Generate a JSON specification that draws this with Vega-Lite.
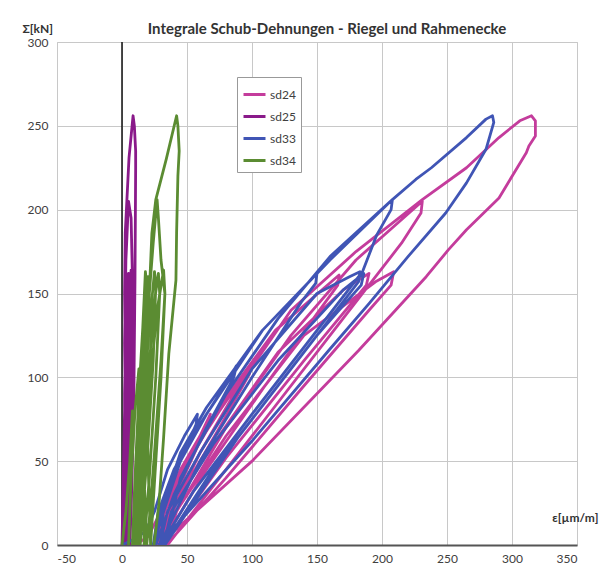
{
  "$schema": "https://vega.github.io/schema/vega-lite/v6.json",
  "width": 520,
  "height": 503,
  "autosize": "none",
  "padding": {"left": 57, "top": 42, "right": 25, "bottom": 30},
  "background": "white",
  "title": {"text": "Integrale Schub-Dehnungen - Riegel und Rahmenecke", "font": "Lato", "fontSize": 15, "fontWeight": "bold", "color": "#333333", "offset": 7, "dx": 10, "dy": 22},
  "config": {
    "view": {"stroke": "#c8c8c8"},
    "font": "Lato",
    "axis": {"labelFont": "Lato", "labelFontSize": 12, "labelColor": "#404040", "gridColor": "#c8c8c8", "gridWidth": 1, "ticks": false, "titleFont": "Lato", "titleFontSize": 12, "titleFontWeight": "bold", "titleColor": "#333333"}
  },
  "layer": [
    {
      "data": {"values": [{"x": 0}]},
      "mark": {"type": "rule", "color": "#111111", "strokeWidth": 1.5},
      "encoding": {"x": {"field": "x", "type": "quantitative", "scale": {"domain": [-50, 350]}}}
    },
    {
      "data": {"values": [
{"s":"sd24","x":10,"y":0},{"s":"sd24","x":20,"y":5},{"s":"sd24","x":30,"y":20},{"s":"sd24","x":45,"y":45},{"s":"sd24","x":60,"y":65},{"s":"sd24","x":68,"y":78},{"s":"sd24","x":66,"y":72},{"s":"sd24","x":50,"y":45},{"s":"sd24","x":35,"y":18},{"s":"sd24","x":27,"y":0},
{"s":"sd24","x":32,"y":20},{"s":"sd24","x":50,"y":50},{"s":"sd24","x":75,"y":80},{"s":"sd24","x":100,"y":108},{"s":"sd24","x":98,"y":102},{"s":"sd24","x":75,"y":70},{"s":"sd24","x":45,"y":30},{"s":"sd24","x":28,"y":0},
{"s":"sd24","x":33,"y":20},{"s":"sd24","x":50,"y":48},{"s":"sd24","x":80,"y":88},{"s":"sd24","x":118,"y":128},{"s":"sd24","x":167,"y":161},{"s":"sd24","x":166,"y":155},{"s":"sd24","x":150,"y":138},{"s":"sd24","x":110,"y":95},{"s":"sd24","x":65,"y":45},{"s":"sd24","x":30,"y":0},
{"s":"sd24","x":36,"y":18},{"s":"sd24","x":70,"y":60},{"s":"sd24","x":120,"y":115},{"s":"sd24","x":170,"y":152},{"s":"sd24","x":190,"y":162},{"s":"sd24","x":188,"y":155},{"s":"sd24","x":140,"y":110},{"s":"sd24","x":80,"y":52},{"s":"sd24","x":32,"y":0},
{"s":"sd24","x":40,"y":18},{"s":"sd24","x":80,"y":65},{"s":"sd24","x":140,"y":125},{"s":"sd24","x":195,"y":157},{"s":"sd24","x":209,"y":163},{"s":"sd24","x":207,"y":155},{"s":"sd24","x":190,"y":140},{"s":"sd24","x":140,"y":95},{"s":"sd24","x":80,"y":40},{"s":"sd24","x":34,"y":0},
{"s":"sd24","x":42,"y":20},{"s":"sd24","x":80,"y":70},{"s":"sd24","x":130,"y":125},{"s":"sd24","x":180,"y":170},{"s":"sd24","x":231,"y":205},{"s":"sd24","x":230,"y":198},{"s":"sd24","x":215,"y":180},{"s":"sd24","x":170,"y":135},{"s":"sd24","x":110,"y":75},{"s":"sd24","x":35,"y":0},
{"s":"sd24","x":38,"y":20},{"s":"sd24","x":60,"y":55},{"s":"sd24","x":90,"y":95},{"s":"sd24","x":130,"y":140},{"s":"sd24","x":180,"y":175},{"s":"sd24","x":231,"y":206},{"s":"sd24","x":265,"y":225},{"s":"sd24","x":290,"y":243},{"s":"sd24","x":306,"y":253},{"s":"sd24","x":315,"y":256},{"s":"sd24","x":318,"y":253},{"s":"sd24","x":318,"y":244},{"s":"sd24","x":313,"y":238},{"s":"sd24","x":311,"y":234},{"s":"sd24","x":290,"y":207},{"s":"sd24","x":265,"y":188},{"s":"sd24","x":251,"y":176},{"s":"sd24","x":234,"y":160},{"s":"sd24","x":182,"y":116},{"s":"sd24","x":100,"y":50},{"s":"sd24","x":28,"y":0},
{"s":"sd25","x":0,"y":0},{"s":"sd25","x":1,"y":40},{"s":"sd25","x":2,"y":80},{"s":"sd25","x":3,"y":76},{"s":"sd25","x":2,"y":40},{"s":"sd25","x":1,"y":0},
{"s":"sd25","x":1,"y":30},{"s":"sd25","x":2,"y":60},{"s":"sd25","x":3,"y":105},{"s":"sd25","x":4,"y":100},{"s":"sd25","x":3,"y":50},{"s":"sd25","x":2,"y":0},
{"s":"sd25","x":2,"y":40},{"s":"sd25","x":2,"y":90},{"s":"sd25","x":3,"y":130},{"s":"sd25","x":5,"y":162},{"s":"sd25","x":6,"y":150},{"s":"sd25","x":5,"y":80},{"s":"sd25","x":3,"y":0},
{"s":"sd25","x":3,"y":40},{"s":"sd25","x":4,"y":90},{"s":"sd25","x":6,"y":140},{"s":"sd25","x":8,"y":163},{"s":"sd25","x":8,"y":150},{"s":"sd25","x":7,"y":80},{"s":"sd25","x":5,"y":20},{"s":"sd25","x":4,"y":0},
{"s":"sd25","x":3,"y":50},{"s":"sd25","x":4,"y":110},{"s":"sd25","x":6,"y":150},{"s":"sd25","x":7,"y":164},{"s":"sd25","x":8,"y":140},{"s":"sd25","x":6,"y":60},{"s":"sd25","x":4,"y":0},
{"s":"sd25","x":3,"y":60},{"s":"sd25","x":2,"y":120},{"s":"sd25","x":3,"y":170},{"s":"sd25","x":5,"y":205},{"s":"sd25","x":7,"y":195},{"s":"sd25","x":8,"y":160},{"s":"sd25","x":7,"y":80},{"s":"sd25","x":5,"y":0},
{"s":"sd25","x":3,"y":80},{"s":"sd25","x":2,"y":150},{"s":"sd25","x":2.5,"y":186},{"s":"sd25","x":5.4,"y":231},{"s":"sd25","x":8.5,"y":256},{"s":"sd25","x":9.5,"y":250},{"s":"sd25","x":10.5,"y":235},{"s":"sd25","x":10.5,"y":225},{"s":"sd25","x":10,"y":160},{"s":"sd25","x":9,"y":80},{"s":"sd25","x":7,"y":20},{"s":"sd25","x":6,"y":0},
{"s":"sd33","x":0,"y":0},{"s":"sd33","x":8,"y":3},{"s":"sd33","x":18,"y":8},{"s":"sd33","x":25,"y":20},{"s":"sd33","x":35,"y":45},{"s":"sd33","x":48,"y":65},{"s":"sd33","x":58,"y":78},{"s":"sd33","x":57,"y":72},{"s":"sd33","x":45,"y":50},{"s":"sd33","x":32,"y":20},{"s":"sd33","x":24,"y":0},
{"s":"sd33","x":28,"y":20},{"s":"sd33","x":40,"y":45},{"s":"sd33","x":60,"y":72},{"s":"sd33","x":75,"y":90},{"s":"sd33","x":88,"y":107},{"s":"sd33","x":86,"y":100},{"s":"sd33","x":65,"y":70},{"s":"sd33","x":40,"y":30},{"s":"sd33","x":26,"y":0},
{"s":"sd33","x":30,"y":20},{"s":"sd33","x":45,"y":50},{"s":"sd33","x":65,"y":78},{"s":"sd33","x":108,"y":128},{"s":"sd33","x":150,"y":162},{"s":"sd33","x":149,"y":156},{"s":"sd33","x":138,"y":145},{"s":"sd33","x":100,"y":100},{"s":"sd33","x":60,"y":50},{"s":"sd33","x":29,"y":0},
{"s":"sd33","x":35,"y":20},{"s":"sd33","x":60,"y":55},{"s":"sd33","x":100,"y":105},{"s":"sd33","x":150,"y":150},{"s":"sd33","x":175,"y":160},{"s":"sd33","x":183,"y":163},{"s":"sd33","x":182,"y":157},{"s":"sd33","x":170,"y":145},{"s":"sd33","x":120,"y":95},{"s":"sd33","x":70,"y":45},{"s":"sd33","x":32,"y":0},
{"s":"sd33","x":38,"y":20},{"s":"sd33","x":70,"y":60},{"s":"sd33","x":120,"y":110},{"s":"sd33","x":170,"y":152},{"s":"sd33","x":186,"y":162},{"s":"sd33","x":184,"y":155},{"s":"sd33","x":150,"y":125},{"s":"sd33","x":90,"y":65},{"s":"sd33","x":33,"y":0},
{"s":"sd33","x":45,"y":40},{"s":"sd33","x":80,"y":90},{"s":"sd33","x":120,"y":135},{"s":"sd33","x":160,"y":172},{"s":"sd33","x":208,"y":206},{"s":"sd33","x":207,"y":200},{"s":"sd33","x":196,"y":185},{"s":"sd33","x":185,"y":163},{"s":"sd33","x":150,"y":128},{"s":"sd33","x":100,"y":78},{"s":"sd33","x":55,"y":32},{"s":"sd33","x":30,"y":0},
{"s":"sd33","x":32,"y":25},{"s":"sd33","x":45,"y":55},{"s":"sd33","x":65,"y":82},{"s":"sd33","x":108,"y":128},{"s":"sd33","x":160,"y":170},{"s":"sd33","x":208,"y":206},{"s":"sd33","x":226,"y":218},{"s":"sd33","x":238,"y":225},{"s":"sd33","x":265,"y":243},{"s":"sd33","x":280,"y":254},{"s":"sd33","x":285,"y":256},{"s":"sd33","x":286,"y":252},{"s":"sd33","x":280,"y":236},{"s":"sd33","x":265,"y":216},{"s":"sd33","x":249,"y":198},{"s":"sd33","x":220,"y":172},{"s":"sd33","x":190,"y":144},{"s":"sd33","x":159,"y":116},{"s":"sd33","x":100,"y":62},{"s":"sd33","x":28,"y":0},
{"s":"sd34","x":0,"y":0},{"s":"sd34","x":3,"y":20},{"s":"sd34","x":6,"y":50},{"s":"sd34","x":8,"y":80},{"s":"sd34","x":9,"y":75},{"s":"sd34","x":7,"y":40},{"s":"sd34","x":5,"y":0},
{"s":"sd34","x":7,"y":40},{"s":"sd34","x":10,"y":80},{"s":"sd34","x":13,"y":105},{"s":"sd34","x":14,"y":100},{"s":"sd34","x":12,"y":60},{"s":"sd34","x":9,"y":20},{"s":"sd34","x":8,"y":0},
{"s":"sd34","x":10,"y":40},{"s":"sd34","x":13,"y":90},{"s":"sd34","x":16,"y":130},{"s":"sd34","x":18,"y":163},{"s":"sd34","x":19,"y":155},{"s":"sd34","x":17,"y":110},{"s":"sd34","x":14,"y":60},{"s":"sd34","x":11,"y":20},{"s":"sd34","x":10,"y":0},
{"s":"sd34","x":12,"y":40},{"s":"sd34","x":15,"y":95},{"s":"sd34","x":18,"y":140},{"s":"sd34","x":20,"y":160},{"s":"sd34","x":21,"y":150},{"s":"sd34","x":19,"y":100},{"s":"sd34","x":15,"y":40},{"s":"sd34","x":12,"y":0},
{"s":"sd34","x":13,"y":40},{"s":"sd34","x":17,"y":90},{"s":"sd34","x":21,"y":130},{"s":"sd34","x":25,"y":163},{"s":"sd34","x":26,"y":155},{"s":"sd34","x":24,"y":110},{"s":"sd34","x":20,"y":60},{"s":"sd34","x":16,"y":20},{"s":"sd34","x":14,"y":0},
{"s":"sd34","x":16,"y":40},{"s":"sd34","x":20,"y":95},{"s":"sd34","x":24,"y":140},{"s":"sd34","x":28,"y":162},{"s":"sd34","x":29,"y":150},{"s":"sd34","x":26,"y":100},{"s":"sd34","x":21,"y":40},{"s":"sd34","x":17,"y":0},
{"s":"sd34","x":17,"y":40},{"s":"sd34","x":22,"y":100},{"s":"sd34","x":27,"y":140},{"s":"sd34","x":32,"y":164},{"s":"sd34","x":33,"y":150},{"s":"sd34","x":30,"y":110},{"s":"sd34","x":25,"y":55},{"s":"sd34","x":21,"y":15},{"s":"sd34","x":19,"y":0},
{"s":"sd34","x":17,"y":40},{"s":"sd34","x":18,"y":90},{"s":"sd34","x":20,"y":140},{"s":"sd34","x":24,"y":180},{"s":"sd34","x":27,"y":206},{"s":"sd34","x":28,"y":195},{"s":"sd34","x":30,"y":170},{"s":"sd34","x":33,"y":150},{"s":"sd34","x":30,"y":100},{"s":"sd34","x":26,"y":50},{"s":"sd34","x":22,"y":0},
{"s":"sd34","x":20,"y":50},{"s":"sd34","x":19,"y":100},{"s":"sd34","x":21,"y":150},{"s":"sd34","x":23,"y":186},{"s":"sd34","x":26,"y":206},{"s":"sd34","x":34,"y":230},{"s":"sd34","x":42,"y":256},{"s":"sd34","x":43,"y":250},{"s":"sd34","x":44,"y":235},{"s":"sd34","x":43,"y":220},{"s":"sd34","x":42,"y":186},{"s":"sd34","x":41.5,"y":158},{"s":"sd34","x":36,"y":114},{"s":"sd34","x":32,"y":64},{"s":"sd34","x":28.5,"y":25},{"s":"sd34","x":24.6,"y":0}
      ]},
      "mark": {"type": "line", "strokeWidth": 2.8, "strokeJoin": "round", "clip": true},
      "encoding": {
        "x": {"field": "x", "type": "quantitative", "scale": {"domain": [-50, 350]},
              "axis": {"values": [-50, 0, 50, 100, 150, 200, 250, 300, 350], "labelExpr": "replace(datum.label, '−', '-')", "title": "ε[µm/m]", "titleAngle": 0, "titleX": 541, "titleY": -28, "titleAlign": "right", "titleBaseline": "middle", "domainColor": "#555555", "domainWidth": 2, "labelPadding": 8}},
        "y": {"field": "y", "type": "quantitative", "scale": {"domain": [0, 300]},
              "axis": {"values": [0, 50, 100, 150, 200, 250, 300], "title": "Σ[kN]", "titleAngle": 0, "titleX": -35, "titleY": -14, "titleAlign": "left", "titleBaseline": "middle", "domain": false, "labelPadding": 9}},
        "color": {"field": "s", "type": "nominal",
                  "scale": {"domain": ["sd24", "sd25", "sd33", "sd34"], "range": ["#c43c9c", "#8a1a8a", "#4055b5", "#5b8c32"]},
                  "legend": {"title": null, "orient": "none", "legendX": 180, "legendY": 35, "strokeColor": "#999999", "padding": 5, "symbolType": "stroke", "symbolSize": 484, "symbolStrokeWidth": 3, "labelFontSize": 12, "labelColor": "#404040", "rowPadding": 3, "labelOffset": 3, "fillColor": "white"}},
        "order": {"value": null}
      }
    }
  ]
}
